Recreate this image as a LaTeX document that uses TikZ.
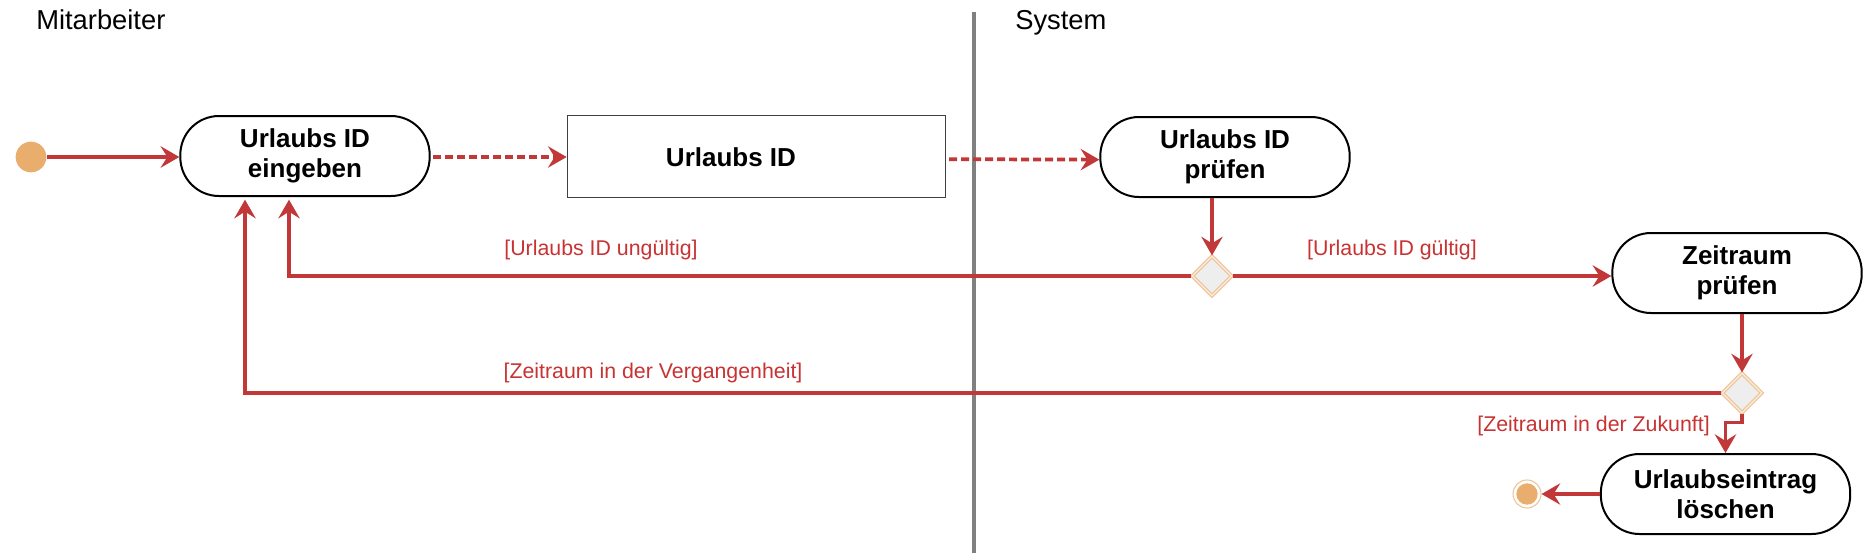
\documentclass[tikz,border=0pt]{standalone}
\usepackage{fontspec}
\setmainfont{Liberation Sans}
\usetikzlibrary{arrows.meta,shapes.geometric,calc}
\definecolor{cred}{RGB}{194,56,56}
\definecolor{lred}{RGB}{200,50,50}
\definecolor{corange}{RGB}{233,174,110}
\definecolor{dring}{RGB}{238,196,152}
\definecolor{dfill}{RGB}{238,238,238}
\definecolor{lanegray}{RGB}{128,128,128}
\tikzset{
  act/.style={draw=black, line width=1.5pt, rectangle, rounded corners=29pt,
    minimum width=187pt, minimum height=60pt, align=center,
    font=\fontsize{19.5}{22.5}\selectfont\bfseries, inner sep=0pt},
  objbox/.style={draw=black!75, line width=0.8pt, rectangle,
    minimum width=284pt, minimum height=61pt, inner sep=0pt},
  objtext/.style={font=\fontsize{19.5}{22.5}\selectfont\bfseries, inner sep=0pt},
  conn/.style={draw=cred, line width=2.8pt, -{Stealth[length=14pt,width=16pt,inset=5pt]}},
  dconn/.style={conn, dash pattern=on 6pt off 3pt},
  decision/.style={diamond, aspect=1, inner sep=0pt, minimum width=30pt, minimum height=30pt,
    fill=dfill, draw=dring, line width=0.9pt, double=white!70!dring, double distance=0.9pt},
  guard/.style={text=lred, font=\fontsize{16}{19}\selectfont, inner sep=0pt},
  lane/.style={font=\fontsize{20.5}{24}\selectfont, inner sep=0pt, anchor=base west},
}
\begin{document}
\begin{tikzpicture}[x=0.75pt,y=-0.75pt]
\useasboundingbox (0,0) rectangle (1865,553);
% swimlane divider and titles
\draw[lanegray, line width=2.4pt] (974,12) coordinate (ltop) -- (974,553) coordinate (lbot);
\node[lane] (mit) at (36,29) {Mitarbeiter};
\node[lane] (sys) at (1015,29) {System};
% nodes
\node[circle, fill=corange, minimum size=23pt, inner sep=0pt] (start) at (31,157) {};
\node[act] (A) at (305,156) {Urlaubs ID\\eingeben};
\node[objbox] (R) at (756.5,156.5) {};
\node[objtext] (Rt) at (731,157) {Urlaubs ID};
\node[act] (B) at (1225,157) {Urlaubs ID\\prüfen};
\node[decision] (D1) at (1212,276) {};
\node[act] (C) at (1737,273) {Zeitraum\\prüfen};
\node[decision] (D2) at (1742,393) {};
\node[act] (E) at (1725.5,494) {Urlaubseintrag\\löschen};
\node[circle, draw=dring, line width=0.8pt, fill=white, minimum size=21pt, inner sep=0pt] (endo) at (1527,494) {};
\node[circle, fill=corange, minimum size=16pt, inner sep=0pt] (endi) at (1527,494) {};
% connectors
\draw[conn] (start) -- (A.west |- start);
\draw[dconn] ([xshift=2pt]A.east |- start) -- (R.west |- start);
\draw[dconn] ([xshift=2pt,yshift=-2pt]R.east) -- ([yshift=-2pt]B.west);
\draw[conn] (D1.north |- B.south) -- (D1.north);
\draw[conn] (D1.east) -- (C.west |- D1.east);
\draw[conn] (D1.west) -| ([xshift=-12pt,yshift=-2pt]A.south);
\draw[conn] (D2.north |- C.south) -- (D2.north);
\draw[conn] (D2.west) -| ([xshift=-45pt,yshift=-2pt]A.south);
\draw[conn] (D2.south) -- ++(0,9) -| (E.north);
\draw[conn] (E.west) -- (endo.east);
% guards
\node[guard] (g1) at (601,250) {[Urlaubs ID ungültig]};
\node[guard] (g2) at (1392,250) {[Urlaubs ID gültig]};
\node[guard] (g3) at (653,373) {[Zeitraum in der Vergangenheit]};
\node[guard, anchor=east] (g4) at (1710,426) {[Zeitraum in der Zukunft]};
\end{tikzpicture}
\end{document}
